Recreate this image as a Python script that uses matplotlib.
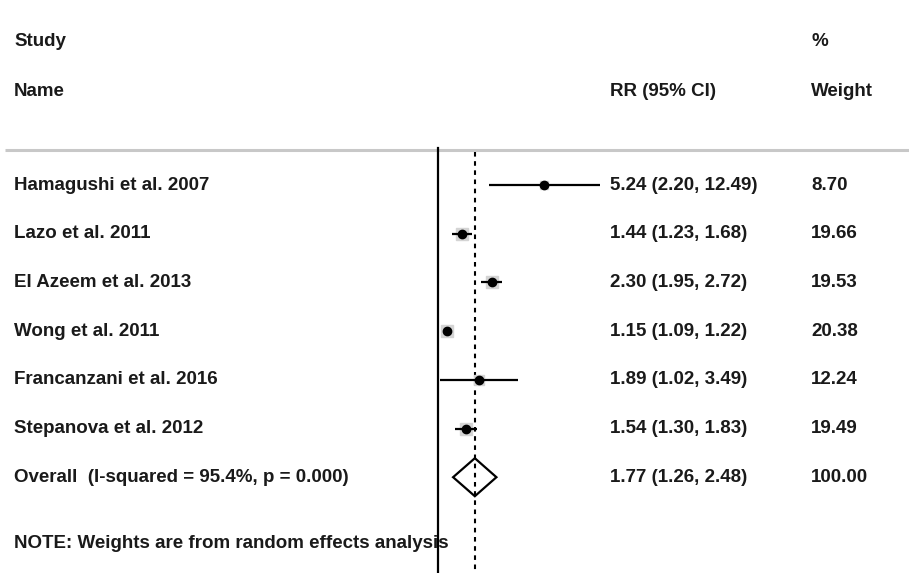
import numpy as np
import matplotlib
matplotlib.use("Agg")
import matplotlib.pyplot as plt
from matplotlib.patches import Polygon

studies = ["Hamagushi et al. 2007", "Lazo et al. 2011", "El Azeem et al. 2013",
           "Wong et al. 2011", "Francanzani et al. 2016", "Stepanova et al. 2012"]
rr = [5.24, 1.44, 2.30, 1.15, 1.89, 1.54]
lo = [2.20, 1.23, 1.95, 1.09, 1.02, 1.30]
hi = [12.49, 1.68, 2.72, 1.22, 3.49, 1.83]
weights = [8.70, 19.66, 19.53, 20.38, 12.24, 19.49]
overall_label = "Overall  (I-squared = 95.4%, p = 0.000)"
overall = [1.77, 1.26, 2.48]
overall_weight = 100.00
note = "NOTE: Weights are from random effects analysis"

W, H = 909, 573
fig = plt.figure(figsize=(W / 100, H / 100), dpi=100)
plt.rcParams['font.family'] = ['Liberation Sans', 'DejaVu Sans']

# layout axes in pixel units
lay = fig.add_axes([0, 0, 1, 1])
lay.set_xlim(0, W)
lay.set_ylim(H, 0)
lay.axis("off")

fs = 13.5
fw = "bold"
tc = "#1a1a1a"
row0, dy = 185, 48.7
rows = [row0 + dy * i for i in range(len(studies) + 1)]
xl, xr, xw = 14, 610, 811

def t(x, y, s):
    lay.text(x, y, s, fontsize=fs, fontweight=fw, color=tc, va="center")

t(xl, 42, "Study")
t(xl, 92, "Name")
t(xr, 92, "RR (95% CI)")
t(xw, 42, "%")
t(xw, 92, "Weight")
lay.plot([5, W], [150, 150], color="#c8c8c8", lw=2.2, solid_capstyle="butt")

for i, s in enumerate(studies):
    y = rows[i]
    t(xl, y, s)
    t(xr, y, f"{rr[i]:.2f} ({lo[i]:.2f}, {hi[i]:.2f})")
    t(xw, y, f"{weights[i]:.2f}")
yo = rows[-1]
t(xl, yo, overall_label)
t(xr, yo, f"{overall[0]:.2f} ({overall[1]:.2f}, {overall[2]:.2f})")
t(xw, yo, f"{overall_weight:.2f}")
t(xl, 543, note)

# forest axes (log scale)
px_l, px_r = 420, 610
x0, k = 438.3, 64.0
xlo = np.exp((px_l - x0) / k)
xhi = np.exp((px_r - x0) / k)
fa = fig.add_axes([px_l / W, 0, (px_r - px_l) / W, 1])
fa.set_xscale("log")
fa.set_xlim(xlo, xhi)
fa.set_ylim(H, 0)
fa.axis("off")
fa.patch.set_alpha(0)

fa.plot([1, 1], [148, H], color="black", lw=1.6)
fa.plot([overall[0], overall[0]], [152, H], color="black", lw=1.5, ls=(0, (2.2, 2.2)))

for i in range(len(studies)):
    y = rows[i]
    fa.plot([rr[i]], [y], marker="s", ms=np.sqrt(weights[i]) * 1.9, color="#d4d4d4",
            mec="#d4d4d4", ls="none")
    fa.plot([lo[i], hi[i]], [y, y], color="black", lw=1.6, solid_capstyle="butt")
    fa.plot([rr[i]], [y], marker="o", ms=6, color="black", ls="none")

dh = 19
diamond = Polygon([[overall[1], yo], [overall[0], yo - dh], [overall[2], yo], [overall[0], yo + dh]],
                  closed=True, fill=False, edgecolor="black", lw=1.6)
fa.add_patch(diamond)

fig.savefig("out.png", dpi=100, facecolor="white")
